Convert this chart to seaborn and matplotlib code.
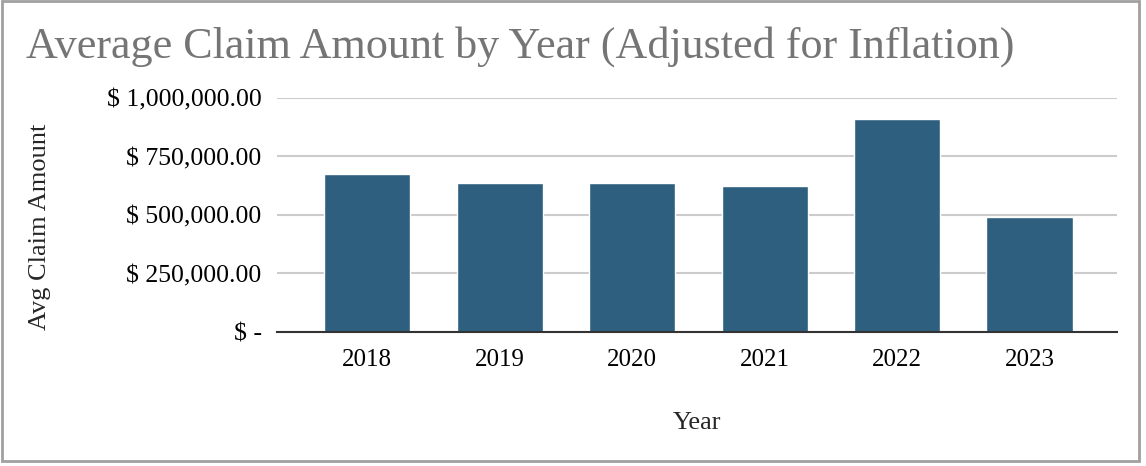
import matplotlib
matplotlib.use("Agg")
import matplotlib.pyplot as plt
import matplotlib.ticker as mticker
from matplotlib.patches import Rectangle
import pandas as pd
import seaborn as sns

# Data
years = ["2018", "2019", "2020", "2021", "2022", "2023"]
avg_claim = [674000, 635000, 635000, 625000, 909000, 493000]
y_ticks = [0, 250000, 500000, 750000, 1000000]

df = pd.DataFrame({"Year": years, "Avg Claim Amount": avg_claim})

sns.set_style("white")
plt.rcParams["font.family"] = ["Liberation Serif", "DejaVu Serif"]

fig = plt.figure(figsize=(11.46, 4.66), dpi=100)
ax = fig.add_axes([0.2417, 0.2876, 0.733, 0.5021])

sns.barplot(
    data=df,
    x="Year",
    y="Avg Claim Amount",
    color="#2e5f7f",
    saturation=1,
    width=0.65,
    ax=ax,
)


def money(v, pos):
    if v == 0:
        return "$ -"
    return f"$ {v:,.2f}"


ax.set_ylim(0, 1000000)
ax.set_xlim(-0.68, 5.66)
ax.set_yticks(y_ticks)
ax.yaxis.set_major_formatter(mticker.FuncFormatter(money))
ax.grid(axis="y", color="#cccccc", linewidth=1.5)
ax.set_axisbelow(True)

for side in ["top", "right", "left"]:
    ax.spines[side].set_visible(False)
ax.spines["bottom"].set_color("#333333")
ax.spines["bottom"].set_linewidth(1.5)
ax.spines["bottom"].set_zorder(5)

ax.tick_params(axis="y", length=0, labelsize=18.5, colors="black", pad=11)
ax.tick_params(axis="x", length=0, labelsize=18, colors="black", pad=12)

ax.set_xlabel("Year", fontsize=19, labelpad=30)
ax.set_ylabel("")
fig.text(0.035, 0.514, "Avg Claim Amount", rotation=90, fontsize=19,
         ha="center", va="center")

fig.text(0.023, 0.9, "Average Claim Amount by Year (Adjusted for Inflation)",
         fontsize=31.8, color="#757575", ha="left", va="center")

# outer chart border
fig.patches.append(Rectangle((0.002, 0.011), 0.992, 0.986, transform=fig.transFigure,
                             fill=False, edgecolor="#a0a0a0", linewidth=2))

fig.savefig("out.png", dpi=100)
